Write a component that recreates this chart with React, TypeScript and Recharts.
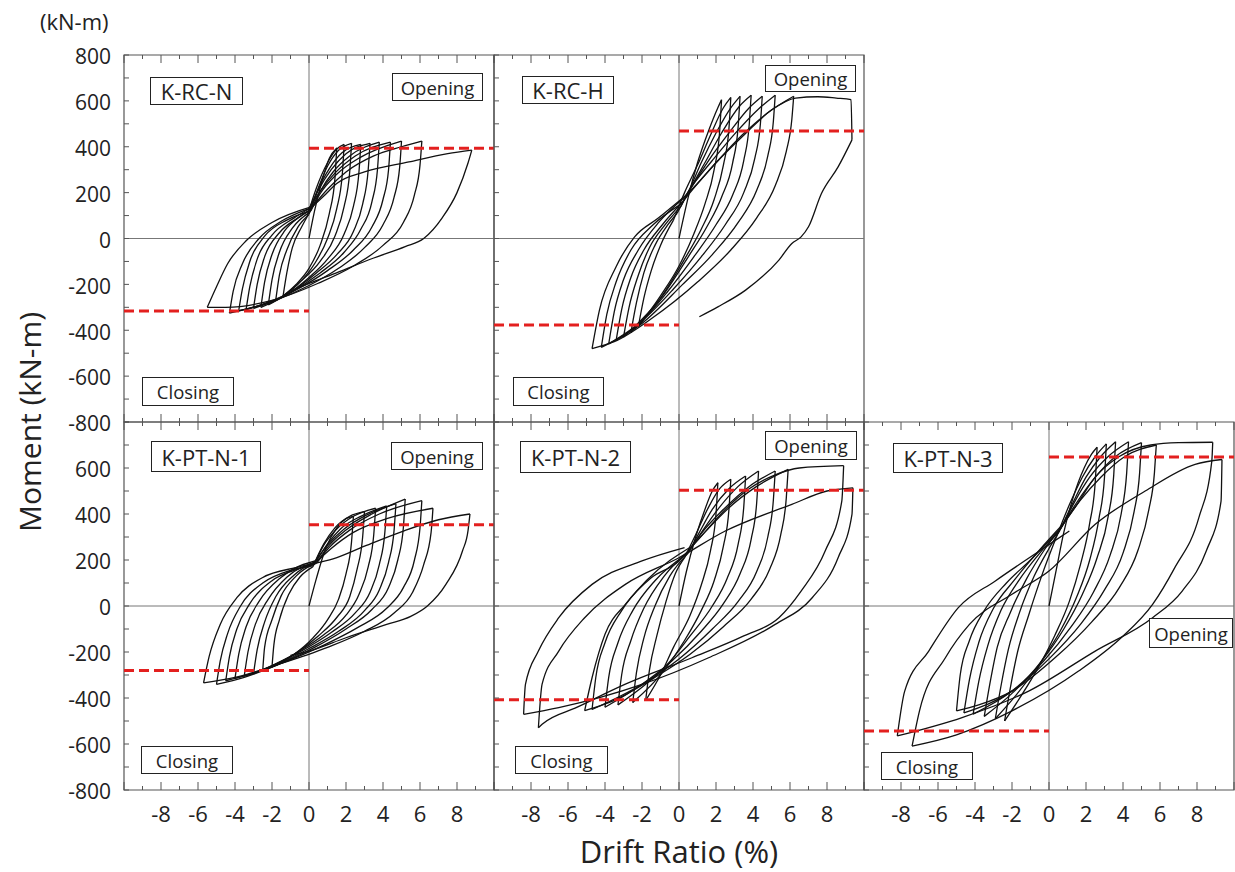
import React from 'react';
import { LineChart, Line, XAxis, YAxis, ReferenceLine, ReferenceArea } from 'recharts';

type Pt = [number, number];

const driftTicks = [-10, -9, -8, -7, -6, -5, -4, -3, -2, -1, 0, 1, 2, 3, 4, 5, 6, 7, 8, 9, 10];
const driftLabels = [-8, -6, -4, -2, 0, 2, 4, 6, 8];
const momentTicks = [-800, -700, -600, -500, -400, -300, -200, -100, 0, 100, 200, 300, 400, 500, 600, 700, 800];
const momentLabels = [-800, -600, -400, -200, 0, 200, 400, 600, 800];

const panelNames = ['K-RC-N', 'K-RC-H', 'K-PT-N-1', 'K-PT-N-2', 'K-PT-N-3'];
const openingLevels = [393, 469, 353, 503, 648];
const closingLevels = [-316, -377, -280, -408, -543];

const krcnLoops: Pt[][] = [
  [[0, 0], [0.3, 120], [0.7, 250], [1.1, 350], [1.5, 395], [1.4, 260], [1.1, 110], [0.6, -30], [0, -130], [-0.7, -200], [-1.4, -250], [-1.2, -150], [-0.9, -40], [-0.4, 50], [-0.1, 95]],
  [[-0.1, 95], [0.4, 220], [1.0, 330], [1.5, 390], [1.9, 410], [1.8, 280], [1.5, 130], [1.0, 0], [0.3, -110], [-0.6, -200], [-1.8, -270], [-1.6, -160], [-1.2, -50], [-0.6, 50], [0, 105]],
  [[0, 105], [0.5, 220], [1.0, 315], [1.6, 385], [2.3, 415], [2.2, 290], [1.9, 140], [1.4, 10], [0.6, -100], [-0.5, -190], [-1.3, -245], [-2.2, -290], [-2.0, -180], [-1.6, -60], [-0.9, 45], [0.05, 115]],
  [[0.05, 115], [0.5, 215], [1.1, 305], [1.8, 375], [2.8, 410], [2.7, 290], [2.4, 140], [1.9, 20], [1.0, -90], [0, -170], [-1.2, -245], [-2.6, -300], [-2.4, -190], [-2.0, -70], [-1.3, 35], [-0.5, 95], [-0.05, 120]],
  [[-0.05, 120], [0.5, 210], [1.2, 300], [2.0, 370], [3.3, 415], [3.2, 300], [2.9, 150], [2.4, 30], [1.5, -70], [0.4, -150], [-1.0, -235], [-3.0, -305], [-2.8, -200], [-2.4, -80], [-1.6, 25], [-0.6, 90], [0.1, 125]],
  [[0.1, 125], [0.6, 205], [1.3, 290], [2.2, 360], [3.8, 420], [3.7, 300], [3.4, 160], [2.8, 40], [1.9, -60], [0.6, -150], [-1.0, -235], [-3.4, -310], [-3.2, -210], [-2.8, -90], [-2.0, 15], [-0.8, 90], [0, 130]],
  [[0, 130], [0.6, 205], [1.4, 285], [2.5, 360], [4.4, 420], [4.3, 300], [4.0, 170], [3.4, 50], [2.4, -50], [1.0, -140], [-0.6, -220], [-2.0, -275], [-3.8, -315], [-3.6, -220], [-3.2, -100], [-2.4, 10], [-1.2, 80], [0.1, 120]],
  [[0.1, 120], [0.6, 195], [1.5, 280], [2.8, 355], [5.0, 425], [4.9, 310], [4.6, 180], [4.0, 60], [3.0, -40], [1.6, -130], [0, -205], [-2.0, -275], [-4.3, -325], [-4.1, -230], [-3.6, -110], [-2.7, 0], [-1.5, 75], [0.15, 135]],
  [[0.15, 135], [1.0, 215], [2.0, 290], [3.5, 360], [5.0, 400], [6.1, 425], [6.0, 320], [5.7, 190], [5.1, 70], [4.0, -30], [2.4, -120], [0.5, -195], [-2.0, -270], [-4.5, -300], [-5.5, -300], [-5.0, -210], [-4.4, -110], [-3.4, -10], [-2.0, 70], [0.2, 140]],
  [[0.2, 140], [0.8, 185], [1.5, 240], [3.0, 290], [5.4, 334], [7.5, 370], [8.8, 385], [8.6, 330], [8.0, 200], [7.2, 90], [6.2, 0], [5.2, -35], [3.5, -85], [1.3, -155], [0, -196], [-1.0, -230]],
];

const krchLoops: Pt[][] = [
  [[0, 0], [0.5, 180], [1.0, 330], [1.6, 470], [2.1, 570], [2.3, 605], [2.2, 470], [1.9, 300], [1.4, 150], [0.8, 20], [0, -120], [-1.0, -250], [-2.2, -385], [-1.9, -260], [-1.5, -140], [-1.0, -30], [-0.3, 80]],
  [[-0.3, 80], [0.3, 200], [1.0, 320], [1.7, 450], [2.4, 570], [2.8, 615], [2.7, 480], [2.4, 320], [1.9, 170], [1.2, 40], [0.3, -90], [-1.0, -260], [-2.6, -410], [-2.3, -280], [-1.9, -150], [-1.3, -30], [-0.6, 60], [-0.1, 110]],
  [[-0.1, 110], [0.6, 220], [1.2, 330], [2.0, 460], [2.8, 570], [3.3, 620], [3.2, 490], [2.9, 330], [2.3, 180], [1.5, 50], [0.5, -80], [-0.8, -240], [-3.0, -430], [-2.7, -300], [-2.2, -160], [-1.6, -40], [-0.8, 55], [0.1, 140]],
  [[0.1, 140], [0.7, 230], [1.4, 330], [2.3, 460], [3.3, 580], [3.9, 625], [3.8, 500], [3.5, 340], [2.9, 190], [2.0, 60], [0.8, -80], [-0.6, -230], [-2.0, -360], [-3.4, -445], [-3.1, -310], [-2.6, -170], [-1.9, -50], [-0.9, 60], [0.2, 160]],
  [[0.2, 160], [0.8, 240], [1.6, 340], [2.7, 460], [3.8, 570], [4.5, 620], [4.4, 500], [4.1, 350], [3.5, 200], [2.5, 60], [1.2, -80], [-0.3, -220], [-2.0, -360], [-3.8, -460], [-3.5, -320], [-3.0, -180], [-2.2, -50], [-1.1, 70], [0.3, 180]],
  [[0.3, 180], [0.9, 250], [1.8, 340], [3.0, 455], [4.3, 565], [5.2, 625], [5.1, 510], [4.8, 360], [4.2, 210], [3.2, 70], [1.8, -70], [0.2, -200], [-2.0, -370], [-4.2, -475], [-3.9, -330], [-3.4, -190], [-2.6, -50], [-1.4, 60], [0.1, 150]],
  [[0.1, 150], [0.8, 220], [2.0, 330], [3.4, 450], [5.0, 560], [6.2, 620], [6.1, 520], [5.8, 380], [5.2, 230], [4.2, 90], [2.8, -50], [1.0, -190], [-1.5, -350], [-3.5, -450], [-4.7, -480], [-4.3, -312], [-3.4, -123], [-2.4, 7], [-1.1, 90], [0.4, 190]],
  [[0.4, 190], [1.0, 240], [2.0, 330], [3.5, 450], [5.0, 560], [6.3, 612], [7.5, 618], [8.5, 612], [9.3, 605], [9.35, 430], [8.6, 312], [7.7, 196], [7.0, 51], [6.6, 7], [6.1, -22], [5.4, -94], [3.6, -225], [2.1, -298], [1.1, -341]],
];

const ptn1Loops: Pt[][] = [
  [[0, 0], [0.4, 120], [0.9, 250], [1.5, 340], [2.0, 380], [2.4, 390], [2.3, 280], [2.0, 140], [1.6, 30], [1.0, -60], [0.2, -140], [-0.8, -210], [-2.0, -265], [-1.9, -170], [-1.6, -60], [-1.1, 50], [-0.5, 125], [0.2, 170]],
  [[0.2, 170], [0.8, 270], [1.4, 340], [2.2, 390], [3.0, 410], [2.9, 300], [2.6, 160], [2.2, 40], [1.5, -50], [0.5, -130], [-0.8, -210], [-2.5, -280], [-2.4, -180], [-2.0, -60], [-1.5, 45], [-0.7, 130], [0.3, 185]],
  [[0.3, 185], [0.8, 265], [1.5, 335], [2.4, 390], [3.6, 425], [3.5, 310], [3.2, 170], [2.7, 50], [2.0, -40], [0.8, -125], [-0.6, -200], [-3.0, -295], [-2.8, -190], [-2.4, -70], [-1.8, 40], [-0.8, 135], [0.4, 195]],
  [[0.4, 195], [1.0, 270], [1.7, 335], [2.8, 390], [4.2, 435], [4.1, 320], [3.8, 180], [3.3, 60], [2.5, -30], [1.2, -115], [-0.4, -195], [-2.0, -260], [-3.5, -305], [-3.3, -200], [-2.9, -80], [-2.2, 30], [-1.2, 125], [0.3, 190]],
  [[0.3, 190], [1.0, 265], [1.9, 335], [3.1, 395], [4.7, 445], [4.6, 330], [4.3, 190], [3.8, 70], [3.0, -20], [1.6, -110], [0, -185], [-2.0, -265], [-4.0, -315], [-3.8, -210], [-3.4, -90], [-2.7, 20], [-1.5, 125], [0.5, 200]],
  [[0.5, 200], [1.1, 265], [2.0, 330], [3.4, 400], [5.2, 465], [5.1, 340], [4.8, 200], [4.3, 80], [3.4, -15], [2.0, -100], [0.3, -180], [-2.0, -265], [-4.5, -325], [-4.3, -220], [-3.9, -100], [-3.2, 10], [-2.0, 110], [-0.6, 160], [0.4, 185]],
  [[0.4, 185], [1.1, 255], [2.2, 330], [3.8, 400], [6.1, 458], [6.0, 340], [5.7, 200], [5.1, 80], [4.2, -10], [2.6, -95], [0.8, -170], [-1.5, -250], [-3.5, -310], [-5.0, -341], [-4.8, -240], [-4.4, -120], [-3.7, 0], [-2.5, 100], [-1.0, 155], [0.2, 175]],
  [[0.2, 175], [1.2, 250], [2.4, 320], [4.2, 380], [6.7, 425], [6.6, 320], [6.2, 180], [5.6, 60], [4.6, -30], [3.0, -110], [1.0, -180], [-1.5, -250], [-4.0, -310], [-5.7, -334], [-5.4, -220], [-4.8, -80], [-3.9, 36], [-2.5, 124], [-0.7, 167], [0.3, 185]],
  [[0.3, 185], [1.3, 205], [3.0, 260], [5.1, 326], [7.0, 375], [8.7, 400], [8.6, 330], [8.3, 240], [7.4, 94], [6.4, 0], [5.5, -45], [4.2, -80], [2.0, -138], [0, -196], [-1.0, -215]],
];

const ptn2Loops: Pt[][] = [
  [[0, 0], [0.4, 150], [0.9, 300], [1.4, 420], [1.8, 500], [2.1, 536], [2.0, 400], [1.7, 240], [1.2, 90], [0.6, -40], [-0.3, -180], [-1.0, -300], [-1.8, -410], [-1.6, -280], [-1.2, -130], [-0.7, 20], [-0.2, 140], [0.3, 210]],
  [[0.3, 210], [0.9, 310], [1.6, 430], [2.2, 510], [2.8, 551], [2.7, 420], [2.4, 260], [1.9, 110], [1.2, -20], [0.3, -150], [-0.8, -280], [-2.5, -420], [-2.3, -290], [-1.9, -140], [-1.3, 0], [-0.5, 130], [0.5, 230]],
  [[0.5, 230], [1.1, 320], [1.8, 420], [2.7, 510], [3.6, 565], [3.5, 430], [3.2, 270], [2.6, 120], [1.8, 0], [0.6, -130], [-0.7, -260], [-1.8, -340], [-3.3, -430], [-3.1, -300], [-2.6, -150], [-1.9, -10], [-0.8, 130], [0.6, 245]],
  [[0.6, 245], [1.3, 330], [2.1, 420], [3.2, 520], [4.3, 587], [4.2, 450], [3.9, 290], [3.3, 140], [2.4, 10], [1.2, -110], [-0.4, -240], [-2.0, -340], [-4.0, -440], [-3.8, -310], [-3.3, -160], [-2.5, -20], [-1.3, 110], [0.4, 225]],
  [[0.4, 225], [1.2, 315], [2.4, 420], [3.8, 520], [5.2, 587], [5.1, 460], [4.8, 300], [4.2, 150], [3.2, 20], [1.8, -100], [0, -230], [-2.0, -340], [-4.7, -450], [-4.5, -312], [-4.0, -160], [-3.1, -20], [-1.7, 115], [0.7, 260]],
  [[0.7, 260], [1.5, 330], [2.6, 420], [4.2, 520], [5.9, 594], [5.8, 470], [5.5, 310], [4.9, 160], [3.9, 30], [2.4, -90], [0.6, -210], [-1.5, -320], [-3.5, -410], [-5.1, -455], [-4.7, -312], [-4.0, -123], [-2.9, 7], [-1.5, 123], [0, 196], [0.5, 240]],
  [[0.5, 240], [1.5, 330], [2.5, 420], [3.8, 510], [5.2, 570], [6.5, 600], [8.9, 610], [8.8, 456], [7.9, 239], [6.6, 65], [5.4, -51], [3.5, -130], [0.7, -225], [-2.9, -340], [-5.5, -440], [-7.4, -514], [-7.6, -529], [-7.4, -340], [-6.5, -196], [-5.1, -51], [-2.9, 94], [0, 210], [2.5, 326], [6.1, 442], [8.0, 500], [9.4, 514]],
  [[9.4, 514], [9.35, 398], [8.6, 210], [7.2, 36], [5.2, -80], [1.6, -225], [-2.0, -341], [-6.5, -442], [-8.4, -471], [-8.3, -341], [-7.6, -196], [-6.5, -51], [-4.7, 94], [-2.0, 196], [0.3, 254]],
];

const ptn3Loops: Pt[][] = [
  [[0, 0], [0.4, 160], [0.8, 320], [1.3, 470], [1.9, 600], [2.3, 660], [2.6, 690], [2.5, 540], [2.2, 360], [1.7, 180], [1.1, 20], [0.3, -130], [-0.6, -270], [-1.5, -390], [-2.4, -500], [-2.1, -360], [-1.7, -200], [-1.1, -40], [-0.4, 130], [0.4, 300]],
  [[0.4, 300], [1.1, 440], [1.8, 560], [2.5, 650], [3.1, 705], [3.0, 560], [2.7, 380], [2.2, 200], [1.5, 40], [0.6, -110], [-0.5, -250], [-1.8, -390], [-2.9, -490], [-2.6, -350], [-2.2, -190], [-1.6, -30], [-0.8, 130], [0, 250], [0.6, 330]],
  [[0.6, 330], [1.3, 450], [2.0, 560], [2.8, 650], [3.6, 714], [3.5, 570], [3.2, 390], [2.6, 210], [1.8, 50], [0.8, -100], [-0.5, -250], [-2.0, -380], [-3.5, -480], [-3.2, -340], [-2.8, -180], [-2.1, -30], [-1.2, 120], [-0.2, 250], [0.7, 345]],
  [[0.7, 345], [1.4, 455], [2.2, 560], [3.2, 650], [4.3, 714], [4.2, 580], [3.9, 400], [3.3, 220], [2.4, 60], [1.2, -90], [-0.3, -240], [-2.0, -370], [-4.1, -470], [-3.8, -330], [-3.3, -170], [-2.6, -20], [-1.6, 115], [-0.5, 230], [0.5, 320]],
  [[0.5, 320], [1.5, 450], [2.5, 560], [3.6, 650], [5.0, 710], [4.9, 580], [4.6, 410], [4.0, 230], [3.0, 70], [1.7, -80], [0, -230], [-2.0, -370], [-4.6, -465], [-4.3, -320], [-3.8, -160], [-3.0, -10], [-1.9, 110], [-0.5, 245], [0.8, 360]],
  [[0.8, 360], [1.7, 460], [2.8, 560], [4.1, 650], [5.8, 700], [5.7, 580], [5.4, 420], [4.8, 240], [3.8, 80], [2.3, -70], [0.4, -220], [-2.0, -370], [-3.8, -430], [-5.0, -456], [-4.8, -300], [-4.3, -150], [-3.5, -20], [-2.3, 100], [-1.0, 200], [0.6, 335]],
  [[0.6, 335], [1.5, 440], [2.5, 560], [3.8, 650], [5.5, 700], [7.0, 710], [8.85, 712], [8.8, 630], [8.1, 384], [6.8, 167], [5.6, 7], [3.9, -138], [1.6, -283], [-2.0, -456], [-5.0, -560], [-7.4, -609], [-7.0, -456], [-5.6, -225], [-4.3, -80], [-2.0, 51], [0, 152], [2.5, 355], [5.2, 500], [7.9, 616], [9.35, 637]],
  [[9.35, 637], [9.3, 456], [8.5, 239], [7.2, 65], [5.6, -51], [2.5, -196], [-1.1, -370], [-4.7, -485], [-8.2, -565], [-7.8, -370], [-6.5, -196], [-4.9, -7], [-2.9, 109], [0.3, 283], [1.1, 326]],
];

const allLoops = [krcnLoops, krchLoops, ptn1Loops, ptn2Loops, ptn3Loops];

// layout (pixels)
const PLOT_W = 370;
const AX_L = 60;
const AX_T = 20;
const AX_B = 50;
const AX_R = 10;
const FONT = "'Open Sans', 'Noto Sans', sans-serif";
const INK = '#222';
const FRAME = '#555';

const layout = [
  { x: 124, y: 55, h: 367, xLab: false, yLab: momentLabels,
    boxes: [{ x: 150, y: 77, w: 93, h: 28, size: 22 }, { x: 392, y: 73, w: 91, h: 28, size: 18.5, text: 'Opening' }, { x: 142, y: 377, w: 92, h: 29, size: 18.5, text: 'Closing' }] },
  { x: 494, y: 55, h: 367, xLab: false, yLab: [] as number[],
    boxes: [{ x: 522, y: 76, w: 92, h: 28, size: 22 }, { x: 765, y: 65, w: 91, h: 27, size: 18.5, text: 'Opening' }, { x: 513, y: 377, w: 91, h: 29, size: 18.5, text: 'Closing' }] },
  { x: 124, y: 422, h: 368, xLab: true, yLab: momentLabels.filter(v => v !== 800),
    boxes: [{ x: 151, y: 441, w: 110, h: 31, size: 22 }, { x: 391, y: 442, w: 92, h: 28, size: 18.5, text: 'Opening' }, { x: 141, y: 746, w: 92, h: 28, size: 18.5, text: 'Closing' }] },
  { x: 494, y: 422, h: 368, xLab: true, yLab: [] as number[],
    boxes: [{ x: 520, y: 441, w: 111, h: 32, size: 22 }, { x: 765, y: 431, w: 92, h: 29, size: 18.5, text: 'Opening' }, { x: 515, y: 746, w: 93, h: 28, size: 18.5, text: 'Closing' }] },
  { x: 864, y: 422, h: 368, xLab: true, yLab: [] as number[],
    boxes: [{ x: 893, y: 443, w: 110, h: 30, size: 22 }, { x: 1149, y: 618, w: 84, h: 30, size: 18.5, text: 'Opening' }, { x: 881, y: 752, w: 92, h: 28, size: 18.5, text: 'Closing' }] },
];

// split a cycle at its load reversals so each branch runs one way in drift
function branches(loop: Pt[]): Pt[][] {
  const out: Pt[][] = [];
  let cur: Pt[] = [loop[0]];
  let dir = 0;
  for (let i = 1; i < loop.length; i++) {
    const s = Math.sign(loop[i][0] - loop[i - 1][0]) || dir;
    if (dir !== 0 && s !== dir) {
      out.push(cur);
      cur = [loop[i - 1]];
    }
    dir = s;
    cur.push(loop[i]);
  }
  out.push(cur);
  return out;
}

function DriftTick(props: any) {
  const { x, y, payload, plotH, showLabel } = props;
  const v = payload.value;
  const len = v % 2 === 0 ? 8 : 4;
  return (
    <g>
      <line x1={x} x2={x} y1={y} y2={y - len} stroke={FRAME} strokeWidth={1} />
      <line x1={x} x2={x} y1={y - plotH} y2={y - plotH + len} stroke={FRAME} strokeWidth={1} />
      {showLabel && driftLabels.includes(v) && (
        <text x={x} y={y + 32} textAnchor="middle" fontSize={22} fill={INK} fontFamily={FONT}>{v}</text>
      )}
    </g>
  );
}

function MomentTick(props: any) {
  const { x, y, payload, labels } = props;
  const v = payload.value;
  return (
    <g>
      <line x1={x} x2={x + 5} y1={y} y2={y} stroke={FRAME} strokeWidth={1} />
      {labels.includes(v) && (
        <text x={x - 13} y={y + 2} dy="0.35em" textAnchor="end" fontSize={21} fill={INK} fontFamily={FONT}>{v}</text>
      )}
    </g>
  );
}

function Panel({ idx }: { idx: number }) {
  const L = layout[idx];
  const segs = allLoops[idx].flatMap(branches);
  const open = openingLevels[idx];
  const close = closingLevels[idx];
  return (
    <div style={{ position: 'absolute', left: L.x - AX_L, top: L.y - AX_T }}>
      <LineChart
        width={AX_L + PLOT_W + AX_R}
        height={AX_T + L.h + AX_B}
        margin={{ top: AX_T, right: AX_R, left: 0, bottom: 0 }}
      >
        <XAxis
          dataKey="d"
          type="number"
          domain={[-10, 10]}
          ticks={driftTicks}
          interval={0}
          allowDataOverflow
          axisLine={false}
          tickLine={false}
          tickSize={0}
          tickMargin={0}
          height={AX_B}
          tick={(p: any) => <DriftTick {...p} plotH={L.h} showLabel={L.xLab} />}
        />
        <YAxis
          type="number"
          domain={[-800, 800]}
          ticks={momentTicks}
          interval={0}
          allowDataOverflow
          axisLine={false}
          tickLine={false}
          tickSize={0}
          tickMargin={0}
          width={AX_L}
          tick={(p: any) => <MomentTick {...p} labels={L.yLab} />}
        />
        <ReferenceArea x1={-10} x2={10} y1={-800} y2={800} fill="none" stroke={FRAME} strokeWidth={1.2} />
        <ReferenceLine y={0} stroke="#777" strokeWidth={1} />
        <ReferenceLine x={0} stroke="#777" strokeWidth={1} />
        {segs.map((sg, i) => (
          <Line
            key={i}
            data={sg.map(([d, m]) => ({ d, m }))}
            dataKey="m"
            type="monotone"
            stroke="#111"
            strokeWidth={1.3}
            dot={false}
            isAnimationActive={false}
          />
        ))}
        <Line
          data={[{ d: 0, m: open }, { d: 10, m: open }]}
          dataKey="m"
          stroke="#e3201f"
          strokeWidth={3}
          strokeDasharray="10 5"
          dot={false}
          isAnimationActive={false}
        />
        <Line
          data={[{ d: -10, m: close }, { d: 0, m: close }]}
          dataKey="m"
          stroke="#e3201f"
          strokeWidth={3}
          strokeDasharray="10 5"
          dot={false}
          isAnimationActive={false}
        />
      </LineChart>
    </div>
  );
}

function Label({ b, text }: { b: any; text: string }) {
  return (
    <div
      style={{
        position: 'absolute',
        left: b.x,
        top: b.y,
        width: b.w,
        height: b.h,
        boxSizing: 'border-box',
        border: '1.5px solid #222',
        background: '#fff',
        display: 'flex',
        alignItems: 'center',
        justifyContent: 'center',
        fontSize: b.size,
        color: INK,
        whiteSpace: 'nowrap',
      }}
    >
      {text}
    </div>
  );
}

export default function App() {
  return (
    <div
      style={{
        position: 'absolute',
        left: 0,
        top: 0,
        width: 1235,
        height: 872,
        background: '#fff',
        fontFamily: FONT,
        color: INK,
        overflow: 'hidden',
      }}
    >
      {layout.map((_, i) => <Panel key={i} idx={i} />)}
      {layout.map((L, i) =>
        L.boxes.map((b, j) => <Label key={`${i}-${j}`} b={b} text={b.text ?? panelNames[i]} />)
      )}
      <div style={{ position: 'absolute', left: 40, top: 8, fontSize: 22, lineHeight: '26px' }}>(kN-m)</div>
      <div
        style={{
          position: 'absolute',
          left: 30,
          top: 422,
          transform: 'translate(-50%, -50%) rotate(-90deg)',
          fontSize: 30,
          lineHeight: '34px',
          whiteSpace: 'nowrap',
        }}
      >
        Moment (kN-m)
      </div>
      <div
        style={{
          position: 'absolute',
          left: 679,
          top: 851,
          transform: 'translate(-50%, -50%)',
          fontSize: 31,
          lineHeight: '32px',
          whiteSpace: 'nowrap',
        }}
      >
        Drift Ratio (%)
      </div>
    </div>
  );
}
